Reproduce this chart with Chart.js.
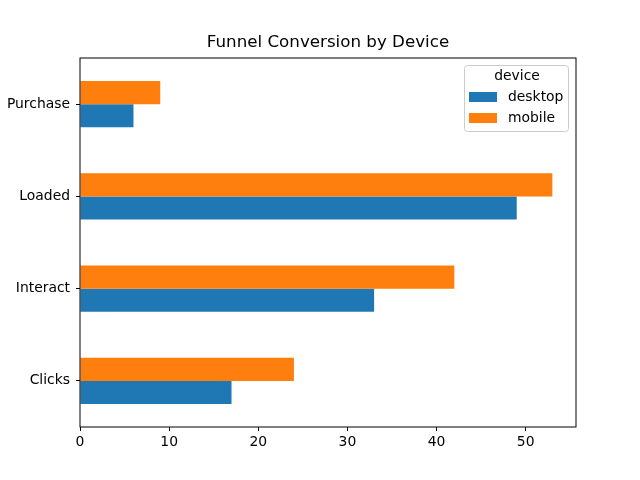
<!DOCTYPE html>
<html>
<head>
<meta charset="utf-8">
<script src="https://cdn.jsdelivr.net/npm/chart.js@4"></script>
<style>
  html, body { margin: 0; padding: 0; background: #fff; }
  #box { width: 640px; height: 480px; }
</style>
</head>
<body>
<div id="box"><canvas id="canvas"></canvas></div>
<script>
// Data
const stages = ["Clicks", "Interact", "Loaded", "Purchase"];
const desktop = [17, 33, 49, 6];
const mobile = [24, 42, 53, 9];
const xTicks = [0, 10, 20, 30, 40, 50];

const FONT = "'DejaVu Sans', sans-serif";

// title, frame and legend in matplotlib style
const extras = {
    id: "extras",
    afterDraw(chart) {
        const ctx = chart.ctx;
        const a = chart.chartArea;
        ctx.save();
        // frame
        ctx.strokeStyle = "#000";
        ctx.lineWidth = 1;
        ctx.strokeRect(a.left, a.top, a.right - a.left, a.bottom - a.top);
        // title
        ctx.fillStyle = "#000";
        ctx.font = "16.7px " + FONT;
        ctx.textAlign = "center";
        ctx.textBaseline = "middle";
        ctx.fillText("Funnel Conversion by Device", (a.left + a.right) / 2, 43);
        // legend
        const lx = 464.5, ly = 65.5, lw = 104, lh = 66;
        ctx.beginPath();
        ctx.roundRect(lx, ly, lw, lh, 3);
        ctx.fillStyle = "rgba(255,255,255,0.8)";
        ctx.fill();
        ctx.strokeStyle = "#cccccc";
        ctx.stroke();
        ctx.fillStyle = "#000";
        ctx.font = "13.9px " + FONT;
        ctx.fillText("device", 517, 76);
        const items = [["desktop", "#1f77b4", 92], ["mobile", "#ff7f0e", 113]];
        ctx.textAlign = "left";
        items.forEach(it => {
            ctx.fillStyle = it[1];
            ctx.fillRect(469, it[2], 28, 10);
            ctx.fillStyle = "#000";
            ctx.fillText(it[0], 508, it[2] + 5);
        });
        ctx.restore();
    }
};

new Chart(document.getElementById("canvas"), {
    type: "bar",
    data: {
        labels: stages,
        // mobile first so it sits above desktop in each group
        datasets: [
            { label: "mobile", data: mobile, backgroundColor: "#ff7f0e" },
            { label: "desktop", data: desktop, backgroundColor: "#1f77b4" }
        ]
    },
    options: {
        indexAxis: "y",
        responsive: true,
        maintainAspectRatio: false,
        animation: false,
        categoryPercentage: 0.5,
        barPercentage: 1.0,
        layout: { padding: { top: 58, right: 64, bottom: 0, left: 0 } },
        plugins: {
            legend: { display: false },
            title: { display: false },
            tooltip: { enabled: false }
        },
        scales: {
            x: {
                min: 0,
                max: 55.65,
                afterBuildTicks: s => { s.ticks = xTicks.map(v => ({ value: v })); },
                afterFit: s => { s.height = 53; },
                grid: { drawOnChartArea: false, tickLength: 4, color: "#000", tickColor: "#000" },
                border: { display: false },
                ticks: { color: "#000", padding: 3, maxRotation: 0, font: { family: FONT, size: 13.9 } }
            },
            y: {
                reverse: true,
                afterFit: s => { s.width = 80; },
                grid: { offset: false, drawOnChartArea: false, tickLength: 4, color: "#000", tickColor: "#000" },
                border: { display: false },
                ticks: { color: "#000", padding: 6, font: { family: FONT, size: 13.9 } }
            }
        }
    },
    plugins: [extras]
});
</script>
</body>
</html>
